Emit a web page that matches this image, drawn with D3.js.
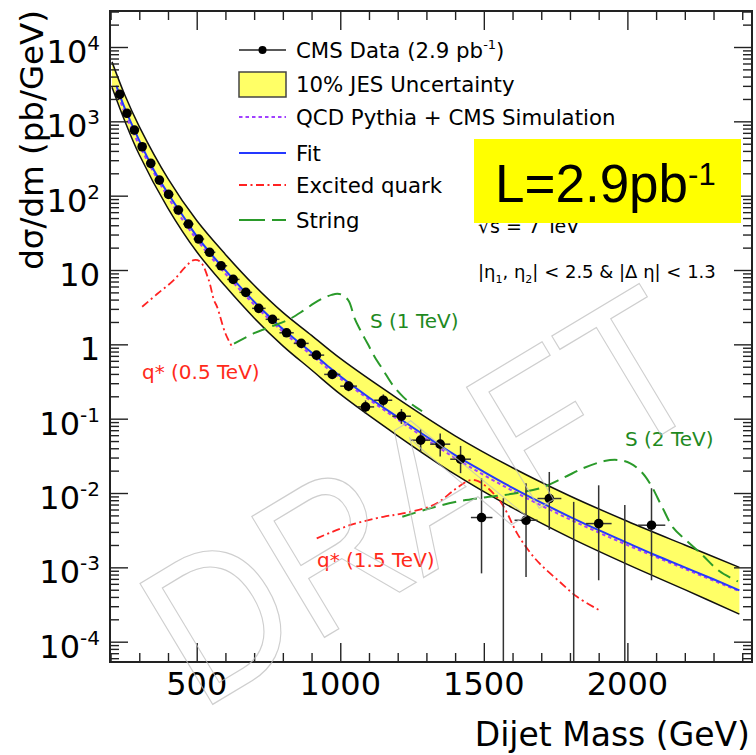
<!DOCTYPE html>
<html>
<head>
<meta charset="utf-8">
<script src="https://cdn.jsdelivr.net/npm/d3@7"></script>
<style>
body { margin: 0; background: #fff; }
svg { display: block; }
text { font-family: "DejaVu Sans", sans-serif; }
</style>
</head>
<body>
<svg id="chart"></svg>
<script>
// CMS dijet mass spectrum, 2.9 pb^-1

// data points: bin centres, bin edges, dsigma/dm (pb/GeV), error bar ends
const massCentre = [232, 257, 283, 310, 340, 370, 402, 436, 471, 507, 545, 585, 627, 671, 716, 764, 813, 864, 917, 972,
  1029, 1088, 1150, 1213, 1280, 1348, 1419, 1492, 1568, 1647, 1728, 1813, 1900, 1991, 2084];
const binEdges = [220, 244, 270, 296, 325, 354, 386, 419, 453, 489, 526, 565, 606, 649, 693, 740, 788, 838, 890, 944, 1000,
  1058, 1118, 1181, 1246, 1313, 1383, 1455, 1530, 1607, 1687, 1770, 1856, 1945, 2037, 2132];
const xsec = [2307, 1282, 764, 455, 272, 162, 104, 64.1, 41.5, 26.1, 17.3, 11.4, 7.48, 5.00, 3.05, 2.17, 1.43, 1.03, 0.716, 0.394,
  0.274, 0.144, 0.177, 0.108, 0.0514, 0.0454, 0.0285, 0.00468, null, 0.00430, 0.00843, null, 0.00388, null, 0.00369];
const errLo = [2290, 1270, 756, 449, 268, 159, 102, 62.7, 40.4, 25.3, 16.7, 10.9, 7.1, 4.7, 2.83, 2.0, 1.30, 0.94, 0.65, 0.345,
  0.234, 0.117, 0.146, 0.085, 0.036, 0.031, 0.0185, 0.00083, null, 0.00074, 0.0032, null, 0.00067, null, 0.00067];
const errHi = [2325, 1294, 772, 461, 276, 165, 106, 65.5, 42.6, 26.9, 17.9, 11.9, 7.9, 5.3, 3.28, 2.35, 1.56, 1.13, 0.79, 0.445,
  0.318, 0.176, 0.212, 0.135, 0.072, 0.063, 0.043, 0.0158, 0.0085, 0.01355, 0.0192, 0.0076, 0.0127, 0.0069, 0.0116];

// curves, stored as log10 of dsigma/dm
const fitMass = [220, 250, 300, 350, 400, 450, 500, 550, 600, 650, 700, 750, 800, 850, 900, 950, 1000, 1100, 1200, 1300,
  1400, 1500, 1600, 1700, 1800, 1900, 2000, 2100, 2200, 2300, 2390];
const fitExp = [3.48, 3.17, 2.74, 2.35, 2.03, 1.74, 1.455, 1.215, 0.995, 0.78, 0.575, 0.385, 0.205, 0.045, -0.11, -0.27, -0.43,
  -0.715, -0.98, -1.24, -1.49, -1.715, -1.93, -2.13, -2.32, -2.50, -2.67, -2.84, -3.00, -3.16, -3.31];

const qcdMass = [220, 250, 300, 400, 500, 600, 700, 800, 900, 1000, 1200, 1400, 1600, 1800, 2000, 2200, 2390];
const qcdExp = [3.42, 3.11, 2.68, 1.98, 1.41, 0.95, 0.535, 0.17, -0.145, -0.46, -1.01, -1.53, -1.97, -2.355, -2.70, -3.02, -3.32];

const bandMass = [205, 250, 300, 400, 500, 600, 700, 800, 900, 1000, 1200, 1400, 1600, 1800, 2000, 2200, 2390];
const bandHiExp = [3.80, 3.35, 2.93, 2.23, 1.665, 1.21, 0.795, 0.43, 0.12, -0.19, -0.73, -1.23, -1.66, -2.04, -2.38, -2.70, -3.00];
const bandLoExp = [3.46, 3.00, 2.55, 1.83, 1.245, 0.78, 0.355, -0.02, -0.345, -0.67, -1.23, -1.75, -2.20, -2.60, -2.96, -3.30, -3.63];

const qstar05Mass = [310, 363, 420, 461, 490, 513, 542, 560, 571, 600, 627];
const qstar05Exp = [0.505, 0.68, 0.864, 1.043, 1.133, 1.11, 0.864, 0.595, 0.505, 0.146, -0.06];

const qstar15Mass = [918, 1036, 1150, 1210, 1326, 1400, 1450, 1480, 1535, 1570, 1617, 1663, 1700, 1760, 1826, 1904];
const qstar15Exp = [-2.61, -2.43, -2.32, -2.28, -2.16, -1.95, -1.83, -1.84, -2.01, -2.19, -2.55, -2.81, -2.97, -3.18, -3.40, -3.58];

const string1Mass = [630, 700, 760, 816, 870, 908, 940, 970, 990, 1010, 1030, 1050, 1070, 1095, 1120, 1150, 1185, 1220, 1250, 1285];
const string1Exp = [0.01, 0.15, 0.24, 0.325, 0.45, 0.55, 0.62, 0.665, 0.68, 0.66, 0.58, 0.35, 0.19, 0.01, -0.17, -0.35, -0.56, -0.71, -0.81, -0.90];

const string2Mass = [1216, 1300, 1400, 1500, 1600, 1700, 1780, 1850, 1920, 1965, 2010, 2050, 2080, 2120, 2160, 2200, 2260, 2320, 2385];
const string2Exp = [-2.32, -2.22, -2.12, -2.06, -2.01, -1.93, -1.79, -1.66, -1.57, -1.555, -1.60, -1.72, -1.88, -2.18, -2.47, -2.62, -2.83, -3.05, -3.19];

// axis ticks
const xMajor = [500, 1000, 1500, 2000];
const yMajor = [1e-4, 1e-3, 1e-2, 1e-1, 1, 10, 1e2, 1e3, 1e4];
const yLabelBase = ["10", "10", "10", "10", "1", "10", "10", "10", "10"];
const yLabelExp = ["-4", "-3", "-2", "-1", "", "", "2", "3", "4"];

const legendLabels = ["CMS Data (2.9 pb", "10% JES Uncertainty", "QCD Pythia + CMS Simulation", "Fit", "Excited quark", "String"];

const W = 756, H = 755;
const margin = {left: 110, right: 752, top: 11, bottom: 662};

const svg = d3.select("#chart").attr("width", W).attr("height", H);

const x = d3.scaleLinear().domain([198, 2434]).range([margin.left, margin.right]);
const y = d3.scaleLog().domain([5.33e-5, 3.05e4]).range([margin.bottom, margin.top]);
const yE = e => y(Math.pow(10, e));

svg.append("defs").append("clipPath").attr("id", "plot")
  .append("rect")
  .attr("x", margin.left).attr("y", margin.top)
  .attr("width", margin.right - margin.left).attr("height", margin.bottom - margin.top);

const plot = svg.append("g").attr("clip-path", "url(#plot)");

// JES band
const bandRows = bandMass.map((m, i) => ({m: m, hi: bandHiExp[i], lo: bandLoExp[i]}));
const smooth = d3.curveCatmullRom.alpha(0.5);
plot.append("path")
  .datum(bandRows)
  .attr("fill", "#ffff66")
  .attr("d", d3.area().curve(smooth).x(d => x(d.m)).y0(d => yE(d.lo)).y1(d => yE(d.hi)));
["hi", "lo"].forEach(k => {
  plot.append("path")
    .datum(bandRows)
    .attr("fill", "none")
    .attr("stroke", "#111")
    .attr("stroke-width", 1.5)
    .attr("d", d3.line().curve(smooth).x(d => x(d.m)).y(d => yE(d[k])));
});

const curve = (ms, es, color, width, dash) => {
  plot.append("path")
    .datum(ms.map((m, i) => [m, es[i]]))
    .attr("fill", "none")
    .attr("stroke", color)
    .attr("stroke-width", width)
    .attr("stroke-dasharray", dash)
    .attr("d", d3.line().curve(smooth).x(d => x(d[0])).y(d => yE(d[1])));
};

curve(qcdMass, qcdExp, "#a040ff", 2, "3.5,3");
curve(fitMass, fitExp, "#2438ff", 2, null);
curve(qstar05Mass, qstar05Exp, "#ff2222", 1.8, "8,3.5,2,3.5");
curve(qstar15Mass, qstar15Exp, "#ff2222", 1.8, "8,3.5,2,3.5");
curve(string1Mass, string1Exp, "#2a9a2a", 2, "14,7");
curve(string2Mass, string2Exp, "#2a9a2a", 2, "14,7");

// data points with error bars
const pts = massCentre.map((m, i) => ({
  m: m, lo: binEdges[i], hi: binEdges[i + 1], v: xsec[i], eLo: errLo[i], eHi: errHi[i]
}));
const bars = plot.append("g").attr("stroke", "#333").attr("stroke-width", 1.5);
bars.selectAll("line.v").data(pts).enter().append("line")
  .attr("x1", d => x(d.m)).attr("x2", d => x(d.m))
  .attr("y1", d => y(d.eHi))
  .attr("y2", d => d.eLo === null ? margin.bottom : y(d.eLo));
bars.selectAll("line.h").data(pts.filter(d => d.v !== null)).enter().append("line")
  .attr("x1", d => x(d.lo)).attr("x2", d => x(d.hi))
  .attr("y1", d => y(d.v)).attr("y2", d => y(d.v));
plot.append("g").selectAll("circle").data(pts.filter(d => d.v !== null)).enter().append("circle")
  .attr("cx", d => x(d.m)).attr("cy", d => y(d.v))
  .attr("r", 4.8).attr("fill", "#000");

// axes
const yMinor = [];
for (let d = -5; d <= 4; d++) {
  for (let k = 2; k <= 9; k++) {
    const v = k * Math.pow(10, d);
    if (v > y.domain()[0] && v < y.domain()[1]) yMinor.push(v);
  }
}
const xMinor = d3.range(200, 2500, 100).filter(v => v % 500 !== 0 && v < 2434);

const ticks = (axis, tr) => svg.append("g").attr("transform", tr).call(axis)
  .call(g => g.select(".domain").remove())
  .call(g => g.selectAll(".tick line").attr("stroke", "#222").attr("stroke-width", 1.4))
  .call(g => g.selectAll(".tick text").remove());

ticks(d3.axisLeft(y).tickValues(yMajor).tickSize(-18), `translate(${margin.left},0)`);
ticks(d3.axisLeft(y).tickValues(yMinor).tickSize(-9), `translate(${margin.left},0)`);
ticks(d3.axisRight(y).tickValues(yMajor).tickSize(-18), `translate(${margin.right},0)`);
ticks(d3.axisRight(y).tickValues(yMinor).tickSize(-9), `translate(${margin.right},0)`);
ticks(d3.axisBottom(x).tickValues(xMajor).tickSize(-19), `translate(0,${margin.bottom})`);
ticks(d3.axisBottom(x).tickValues(xMinor).tickSize(-9), `translate(0,${margin.bottom})`);
ticks(d3.axisTop(x).tickValues(xMajor).tickSize(-19), `translate(0,${margin.top})`);
ticks(d3.axisTop(x).tickValues(xMinor).tickSize(-9), `translate(0,${margin.top})`);

svg.append("rect")
  .attr("x", margin.left).attr("y", margin.top)
  .attr("width", margin.right - margin.left).attr("height", margin.bottom - margin.top)
  .attr("fill", "none").attr("stroke", "#222").attr("stroke-width", 2);

// y tick labels
yMajor.forEach((v, i) => {
  const t = svg.append("text")
    .attr("x", 100).attr("y", y(v) + 16)
    .attr("text-anchor", "end")
    .attr("font-size", 32)
    .text(yLabelBase[i]);
  if (yLabelExp[i]) {
    t.append("tspan").attr("font-size", 20).attr("dy", -13).text(yLabelExp[i]);
  }
});

// x tick labels
svg.append("g").selectAll("text").data(xMajor).enter().append("text")
  .attr("x", d => x(d)).attr("y", 695)
  .attr("text-anchor", "middle")
  .attr("font-size", 32)
  .text(d => d);

// axis titles
svg.append("text")
  .attr("x", 750).attr("y", 746)
  .attr("text-anchor", "end")
  .attr("font-size", 33)
  .text("Dijet Mass (GeV)");
svg.append("text")
  .attr("transform", "translate(43,10) rotate(-90)")
  .attr("text-anchor", "end")
  .attr("font-size", 32.5)
  .text("dσ/dm (pb/GeV)");

// curve labels
const note = (tx, ty, s, color, size) => svg.append("text")
  .attr("x", tx).attr("y", ty).attr("fill", color).attr("font-size", size).text(s);
note(142, 379, "q* (0.5 TeV)", "#ff2a1a", 20);
note(317, 567, "q* (1.5 TeV)", "#ff2a1a", 20);
note(370, 328, "S (1 TeV)", "#1f8a1f", 20);
note(625, 446, "S (2 TeV)", "#1f8a1f", 20);

// selection text
svg.append("text").attr("x", 478).attr("y", 233).attr("font-size", 19).text("√s = 7 TeV");
const cuts = svg.append("text").attr("x", 478).attr("y", 278).attr("font-size", 18);
cuts.append("tspan").text("|η");
cuts.append("tspan").attr("font-size", 11).attr("dy", 5).text("1");
cuts.append("tspan").attr("dy", -5).text(", η");
cuts.append("tspan").attr("font-size", 11).attr("dy", 5).text("2");
cuts.append("tspan").attr("dy", -5).text("| < 2.5 & |Δ η| < 1.3");

// legend
const lx1 = 239, lx2 = 286, ltx = 296;
const rowY = [50, 84, 117, 153, 185, 220];
const leg = svg.append("g");
leg.append("line").attr("x1", lx1).attr("x2", lx2).attr("y1", rowY[0]).attr("y2", rowY[0])
  .attr("stroke", "#222").attr("stroke-width", 1.5);
leg.append("circle").attr("cx", (lx1 + lx2) / 2).attr("cy", rowY[0]).attr("r", 4).attr("fill", "#000");
leg.append("rect").attr("x", lx1).attr("y", rowY[1] - 12).attr("width", lx2 - lx1).attr("height", 25)
  .attr("fill", "#ffff66").attr("stroke", "#444").attr("stroke-width", 1.5);
const legLine = (row, color, dash) => leg.append("line")
  .attr("x1", lx1).attr("x2", lx2).attr("y1", rowY[row]).attr("y2", rowY[row])
  .attr("stroke", color).attr("stroke-width", 2).attr("stroke-dasharray", dash);
legLine(2, "#a040ff", "3.5,3");
legLine(3, "#2438ff", null);
legLine(4, "#ff2222", "8,3.5,2,3.5");
legLine(5, "#2a9a2a", "26,7");
legendLabels.forEach((s, i) => {
  const t = leg.append("text").attr("x", ltx).attr("y", rowY[i] + 8).attr("font-size", 21.3).text(s);
  if (i === 0) {
    t.append("tspan").attr("font-size", 13).attr("dy", -9).text("-1");
    t.append("tspan").attr("dy", 9).text(")");
  }
});

// luminosity box
svg.append("rect").attr("x", 474).attr("y", 139).attr("width", 267).attr("height", 84).attr("fill", "#ffff00");
const lum = svg.append("text").attr("x", 495).attr("y", 202)
  .style("font-family", "'Liberation Sans', Arial, sans-serif").attr("font-size", 53).text("L=2.9pb");
lum.append("tspan").attr("font-size", 31).attr("dy", -17).text("-1");

// DRAFT watermark, faint outline
svg.append("text")
  .attr("transform", "translate(200,712) rotate(-31) scale(0.88,1)")
  .style("font-family", "'Liberation Sans', Arial, sans-serif")
  .attr("font-size", 205)
  .attr("fill", "none")
  .attr("stroke", "#bdbdbd")
  .attr("stroke-opacity", 0.75)
  .attr("stroke-width", 1.2)
  .text("DRAFT");
</script>
</body>
</html>
